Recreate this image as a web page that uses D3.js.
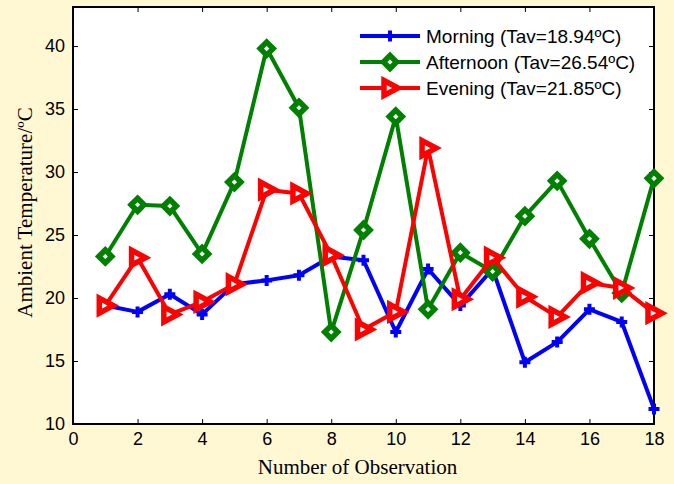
<!DOCTYPE html>
<html>
<head>
<meta charset="utf-8">
<script src="https://cdn.jsdelivr.net/npm/d3@7/dist/d3.min.js"></script>
<style>
  html, body { margin: 0; padding: 0; background: #fff8d2; }
  svg { display: block; }
</style>
</head>
<body>
<script>
// Ambient temperature readings over 18 observations
const observations = d3.range(1, 19);
const morning   = [19.4, 18.9, 20.3, 18.7, 21.1, 21.4, 21.8, 23.3, 23.0, 17.3, 22.3, 19.4, 22.3, 14.9, 16.5, 19.1, 18.1, 11.2];
const afternoon = [23.3, 27.4, 27.3, 23.5, 29.2, 39.8, 35.1, 17.3, 25.4, 34.4, 19.1, 23.6, 22.1, 26.5, 29.3, 24.7, 20.4, 29.5];
const evening   = [19.4, 23.2, 18.7, 19.7, 21.1, 28.6, 28.3, 23.4, 17.5, 18.9, 31.9, 19.9, 23.2, 20.1, 18.5, 21.2, 20.8, 18.8];

const seriesNames = ["Morning (Tav=18.94\u00BAC)", "Afternoon (Tav=26.54\u00BAC)", "Evening (Tav=21.85\u00BAC)"];
const seriesColors = ["#0000ff", "#008000", "#ff0000"];
const seriesMarkers = ["plus", "diamond", "triangle"];
const xTicks = [0, 2, 4, 6, 8, 10, 12, 14, 16, 18];
const yTicks = [10, 15, 20, 25, 30, 35, 40];
const xLabel = "Number of Observation";
const yLabel = "Ambient Temperature/\u00BAC";

const W = 674, H = 484;
const plot = { left: 73, right: 654, top: 7, bottom: 424 };

const svg = d3.select("body").append("svg").attr("width", W).attr("height", H);

const x = d3.scaleLinear().domain([0, 18]).range([plot.left, plot.right]);
const y = d3.scaleLinear().domain([10, 43.1]).range([plot.bottom, plot.top]);

// plotting area
svg.append("rect")
  .attr("x", plot.left).attr("y", plot.top)
  .attr("width", plot.right - plot.left).attr("height", plot.bottom - plot.top)
  .attr("fill", "#ffffff");

const tickFont = "Liberation Sans, Arial, sans-serif";
const titleFont = "Liberation Serif, Times New Roman, serif";

// axes: ticks point inward, mirrored on top and right
const axisBottom = d3.axisBottom(x).tickValues(xTicks).tickSizeInner(-5).tickSizeOuter(0).tickPadding(8);
const axisTop = d3.axisTop(x).tickValues(xTicks).tickSizeInner(-5).tickSizeOuter(0).tickFormat("");
const axisLeft = d3.axisLeft(y).tickValues(yTicks).tickSizeInner(-5).tickSizeOuter(0).tickPadding(8);
const axisRight = d3.axisRight(y).tickValues(yTicks).tickSizeInner(-5).tickSizeOuter(0).tickFormat("");

function styleAxis(g) {
  g.select(".domain").remove();
  g.selectAll(".tick line").attr("stroke", "#000").attr("stroke-width", 1);
  g.selectAll(".tick text").attr("font-family", tickFont).attr("font-size", 18).attr("fill", "#000");
}

svg.append("g").attr("transform", `translate(0,${plot.bottom})`).call(axisBottom).call(styleAxis);
svg.append("g").attr("transform", `translate(0,${plot.top})`).call(axisTop).call(styleAxis);
svg.append("g").attr("transform", `translate(${plot.left},0)`).call(axisLeft).call(styleAxis);
svg.append("g").attr("transform", `translate(${plot.right},0)`).call(axisRight).call(styleAxis);

// frame
svg.append("rect")
  .attr("x", plot.left).attr("y", plot.top)
  .attr("width", plot.right - plot.left).attr("height", plot.bottom - plot.top)
  .attr("fill", "none").attr("stroke", "#000").attr("stroke-width", 2);

// axis titles
svg.append("text")
  .attr("x", (plot.left + plot.right) / 2 - 6).attr("y", 474)
  .attr("text-anchor", "middle")
  .attr("font-family", titleFont).attr("font-size", 21)
  .text(xLabel);

svg.append("text")
  .attr("transform", `translate(32,${(plot.top + plot.bottom) / 2 - 3}) rotate(-90)`)
  .attr("text-anchor", "middle")
  .attr("font-family", titleFont).attr("font-size", 21)
  .text(yLabel);

// marker shapes
function markerPath(kind) {
  if (kind === "plus") return "M-5.5,0H5.5M0,-5.5V5.5";
  if (kind === "diamond") return "M0,-6.5L6.5,0L0,6.5L-6.5,0Z";
  return "M-6,-7.5L8,0L-6,7.5Z";
}
function drawMarker(g, kind, color) {
  g.append("path")
    .attr("d", markerPath(kind))
    .attr("fill", kind === "plus" ? "none" : "#ffffff")
    .attr("stroke", color)
    .attr("stroke-width", kind === "plus" ? 4 : 5.5)
    .attr("stroke-linejoin", "miter");
}

const data = [morning, afternoon, evening];
const line = d3.line().x((d, i) => x(observations[i])).y(d => y(d));

data.forEach((vals, s) => {
  const g = svg.append("g");
  g.append("path")
    .datum(vals)
    .attr("d", line)
    .attr("fill", "none")
    .attr("stroke", seriesColors[s])
    .attr("stroke-width", 4)
    .attr("stroke-linejoin", "round");
  vals.forEach((v, i) => {
    const m = g.append("g").attr("transform", `translate(${x(observations[i])},${y(v)})`);
    drawMarker(m, seriesMarkers[s], seriesColors[s]);
  });
});

// legend
const legend = svg.append("g");
seriesNames.forEach((name, s) => {
  const ly = 36 + s * 26;
  legend.append("line")
    .attr("x1", 360).attr("x2", 420).attr("y1", ly).attr("y2", ly)
    .attr("stroke", seriesColors[s]).attr("stroke-width", 4);
  const m = legend.append("g").attr("transform", `translate(390,${ly})`);
  drawMarker(m, seriesMarkers[s], seriesColors[s]);
  legend.append("text")
    .attr("x", 426).attr("y", ly + 6.5)
    .attr("font-family", tickFont).attr("font-size", 19)
    .text(name);
});
</script>
</body>
</html>
